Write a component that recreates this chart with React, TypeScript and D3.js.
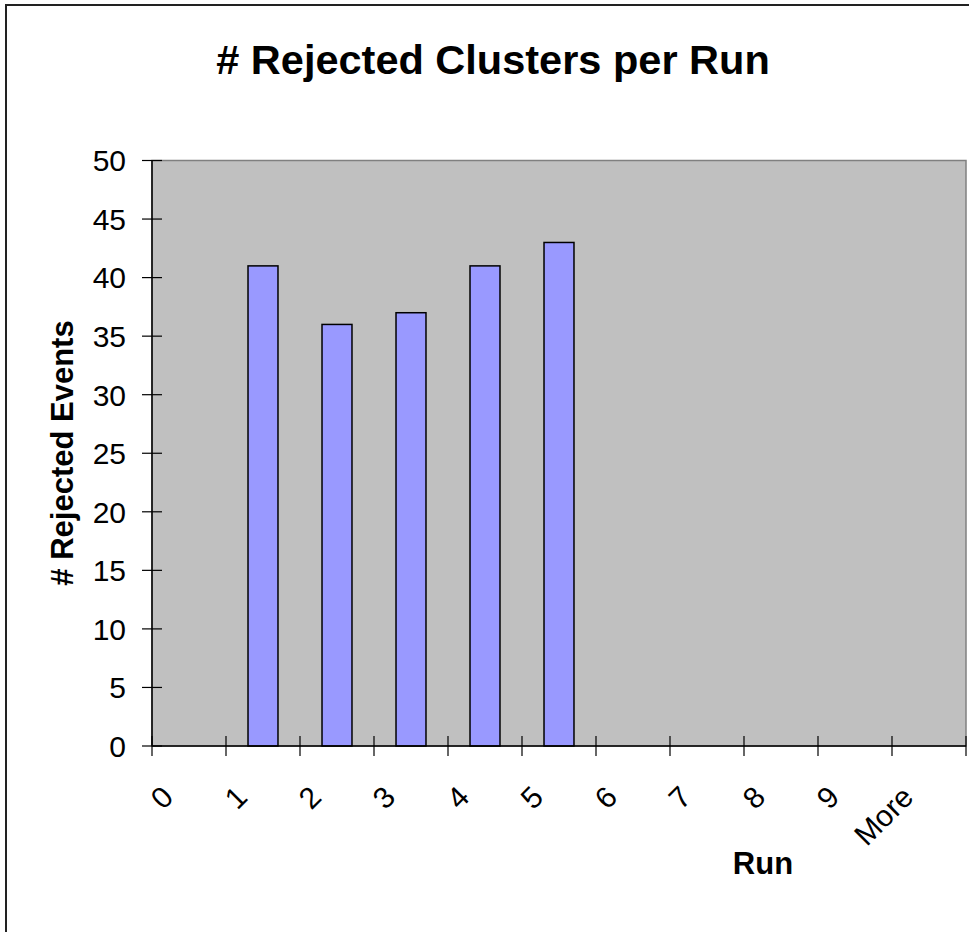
import React from "react";
import * as d3 from "d3";

const categories = ["0", "1", "2", "3", "4", "5", "6", "7", "8", "9", "More"];
const values = [0, 41, 36, 37, 41, 43, 0, 0, 0, 0, 0];
const yTicks = [0, 5, 10, 15, 20, 25, 30, 35, 40, 45, 50];
const title = "# Rejected Clusters per Run";
const xTitle = "Run";
const yTitle = "# Rejected Events";

const W = 969;
const H = 932;
const FONT = "'Liberation Sans', Arial, sans-serif";

export default function App() {
  const left = 152;
  const right = 966;
  const top = 160.5;
  const bottom = 746;

  const x = d3.scaleBand<string>().domain(categories).range([left, right]).padding(0);
  const y = d3.scaleLinear().domain([0, 50]).range([bottom, top]);
  const bw = x.bandwidth();
  const barW = bw * 0.405;

  const boundaries = categories.map((c) => x(c) as number).concat([right]);

  return (
    <svg
      width={W}
      height={H}
      style={{ position: "absolute", left: 0, top: 0, background: "#fff" }}
      fontFamily={FONT}
    >
      <rect x={0} y={0} width={W} height={H} fill="#fff" />
      <rect x={6} y={5} width={W + 20} height={H + 20} fill="none" stroke="#222" strokeWidth={2} />

      <text x={493} y={74} textAnchor="middle" fontSize={41.5} fontWeight="bold" fill="#000">
        {title}
      </text>

      {/* plot area */}
      <rect x={left} y={top} width={right - left} height={bottom - top} fill="#C0C0C0" stroke="#808080" strokeWidth={1.5} />

      {/* bars */}
      {values.map((v, i) =>
        v > 0 ? (
          <rect
            key={i}
            x={(x(categories[i]) as number) + bw / 2 - barW / 2}
            y={y(v)}
            width={barW}
            height={y(0) - y(v)}
            fill="#9999FF"
            stroke="#000"
            strokeWidth={1.5}
          />
        ) : null
      )}

      {/* axes */}
      <line x1={left} x2={left} y1={top} y2={bottom} stroke="#000" strokeWidth={1.5} />
      <line x1={left} x2={right} y1={bottom} y2={bottom} stroke="#000" strokeWidth={1.5} />

      {yTicks.map((t) => (
        <g key={t}>
          <line x1={142} x2={162} y1={y(t)} y2={y(t)} stroke="#000" strokeWidth={1.2} />
          <text x={126} y={y(t)} dy="0.36em" textAnchor="end" fontSize={30} fill="#000">
            {t}
          </text>
        </g>
      ))}

      {boundaries.map((b, i) => (
        <line key={i} x1={b} x2={b} y1={bottom - 10} y2={bottom + 10} stroke="#000" strokeWidth={1.2} />
      ))}

      {categories.map((c) => {
        const cx = (x(c) as number) + bw / 2 - 14;
        const cy = 799;
        return (
          <text
            key={c}
            x={cx}
            y={cy}
            textAnchor="end"
            fontSize={30}
            fill="#000"
            transform={`rotate(-45 ${cx} ${cy})`}
          >
            {c}
          </text>
        );
      })}

      <text x={763} y={874} textAnchor="middle" fontSize={31} fontWeight="bold" fill="#000">
        {xTitle}
      </text>
      <text
        x={0}
        y={0}
        textAnchor="middle"
        fontSize={31}
        fontWeight="bold"
        fill="#000"
        transform={`translate(73 ${453}) rotate(-90)`}
      >
        {yTitle}
      </text>
    </svg>
  );
}
